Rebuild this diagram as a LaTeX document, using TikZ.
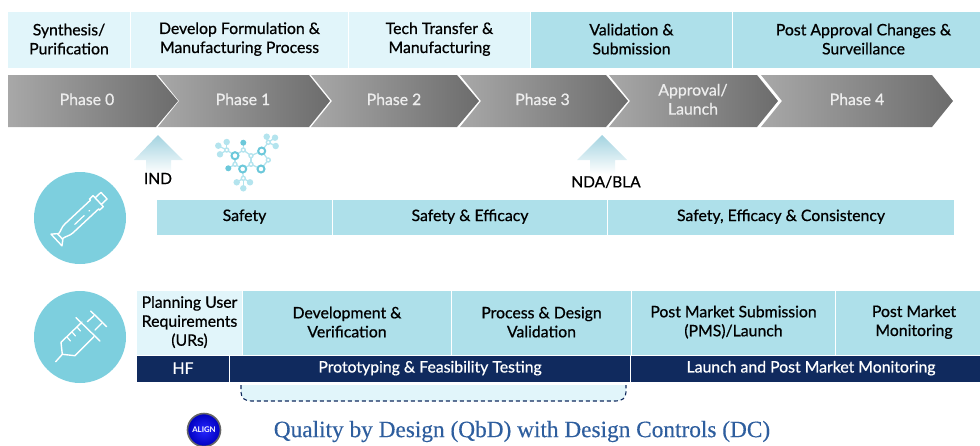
\documentclass[tikz,border=0pt]{standalone}
\usepackage{fontspec}
\setmainfont{Lato}[RawFeature={embolden=0.7}]
\newfontfamily\titlefont{Liberation Serif}[RawFeature={embolden=0.35}]
\newfontfamily\badgefont{Lato Bold}
\usetikzlibrary{shadings}
\definecolor{pale}{HTML}{E1F5FA}
\definecolor{aqua}{HTML}{AEE0EA}
\definecolor{navy}{HTML}{102A5E}
\definecolor{disc}{HTML}{7DCFDE}
\definecolor{arrowtop}{HTML}{A3D3E0}
\definecolor{greyL}{HTML}{A8A8A8}
\definecolor{greyR}{HTML}{6C6C6C}
\definecolor{titleblue}{HTML}{2E5E9E}
\definecolor{molD}{HTML}{6CC8DA}
\definecolor{molL}{HTML}{B4E4EE}
\newcommand{\cellbox}[7]{%
  \pgfmathsetmacro{\cw}{#3-#2}\pgfmathsetmacro{\ch}{#5-#4}%
  \pgfmathsetmacro{\cx}{(#3+#2)/2}\pgfmathsetmacro{\cy}{(#5+#4)/2}%
  \node[#6,minimum width=\cw pt,minimum height=\ch pt] (#1) at (\cx,\cy) {};
  \node[#6,fill=none] (#1t) at (\cx,\cy-0.9) {#7};}
\newcommand{\chev}[7]{% name, x0, notch, xr, tip, textx, text
  \path[chevshape] (#2,75) -- (#4,75) -- (#5,101) -- (#4,127) -- (#2,127) -- (#3,101) -- cycle;
  \node[chevtext] (#1) at (#6,99.3) {#7};}
\tikzset{
  cell/.style={inner sep=0pt,align=center,text=black,font=\fontsize{15.8}{19}\selectfont},
  palecell/.style={cell,fill=pale},
  aquacell/.style={cell,fill=aqua},
  navycell/.style={cell,fill=navy,text=white},
  chevshape/.style={left color=greyL,middle color=greyL!85!greyR,right color=greyR},
  chevtext/.style={inner sep=0pt,align=center,text=white!93!black,font=\fontsize{15.8}{19}\selectfont},
  uparrow/.style={top color=arrowtop,middle color=arrowtop!92!white,bottom color=white},
  tag/.style={inner sep=0pt,text=black,font=\fontsize{15.5}{17}\selectfont},
  discnode/.style={circle,fill=disc,minimum size=92pt,inner sep=0pt},
  icon/.style={draw=white,line width=1.4pt,line cap=round,line join=round},
  mollink/.style={draw=molL,line width=1.3pt},
  molring/.style={circle,draw=molL,line width=1.4pt,fill=white,minimum size=4pt,inner sep=0pt},
  molbig/.style={circle,draw=molD,line width=2pt,fill=white,minimum size=7pt,inner sep=0pt},
  moldot/.style={circle,fill=molL,minimum size=6.5pt,inner sep=0pt},
  moldark/.style={circle,fill=molD,minimum size=6pt,inner sep=0pt},
}
\begin{document}
\begin{tikzpicture}[x=1pt,y=-1pt]
\useasboundingbox (0,0) rectangle (980,445);
% top row
\cellbox{t1}{8}{130}{12}{68}{palecell}{Synthesis/\\Purification}
\cellbox{t2}{131}{348}{12}{68}{palecell}{Develop Formulation \&\\Manufacturing Process}
\cellbox{t3}{349}{530}{12}{68}{palecell}{Tech Transfer \&\\Manufacturing}
\cellbox{t4}{531}{732}{12}{68}{aquacell}{Validation \&\\Submission}
\cellbox{t5}{733}{994}{12}{68}{aquacell}{Post Approval Changes \&\\Surveillance}
% chevrons
\chev{p0}{8}{8}{156}{178}{87}{Phase 0}
\chev{p1}{158}{179}{309}{330}{243}{Phase 1}
\chev{p2}{311}{332}{457}{479}{394}{Phase 2}
\chev{p3}{460}{481}{606}{628}{542.5}{Phase 3}
\chev{p4}{609}{630}{757}{778}{693}{Approval/\\Launch}
\chev{p5}{761}{782}{932}{953}{857}{Phase 4}
% submission arrows
\path[uparrow] (158,135) -- (183,160) -- (171,160) -- (171,174) -- (146,174) -- (146,160) -- (134,160) -- cycle;
\node[tag] (ind) at (158,178.5) {IND};
\path[uparrow] (602,135) -- (627,160) -- (615,160) -- (615,174) -- (590,174) -- (590,160) -- (577,160) -- cycle;
\node[tag] (nda) at (606,182) {NDA/BLA};
% molecule
\foreach \a/\b/\c/\d in {
 226.7/150/218.3/145.7, 226.7/150/220/154.3, 226.7/150/226.7/142, 226.7/150/235/155.7,
 235/155.7/243.3/150, 243.3/150/243.3/142.7, 243.3/150/251/155.7, 251/155.7/261.7/151,
 251/155.7/251/164.3, 251/164.3/242.7/169, 251/164.3/261/169, 242.7/169/235/164.3,
 235/164.3/235/155.7, 235/164.3/228.3/168.3, 261.7/151/268.3/142.3, 268.3/142.3/266.7/136.7,
 268.3/142.3/275/137.7, 268.3/142.3/275.7/146, 261.7/151/268.3/160, 268.3/160/261/169,
 242.7/169/243.3/178.3, 243.3/178.3/236.7/182.3, 243.3/178.3/250/182.3, 243.3/178.3/243.3/188.3}
 {\draw[mollink] (\a,\b) -- (\c,\d);}
\foreach \n/\x/\y in {a/226.7/150,b/243.3/150,c/251/155.7,d/251/164.3,e/235/164.3,f/268.3/160,g/243.3/178.3,h/268.3/142.3}
 {\node[molring] (mr\n) at (\x,\y) {};}
\foreach \n/\x/\y in {a/235/155.7,b/261.7/151,c/242.7/169,d/261/169}
 {\node[molbig] (mb\n) at (\x,\y) {};}
\foreach \n/\x/\y in {a/226.7/142,b/218.3/145.7,c/220/154.3,d/266.7/136.7,e/275/137.7,f/275.7/146,g/236.7/182.3,h/250/182.3,i/243.3/188.3}
 {\node[moldot] (md\n) at (\x,\y) {};}
\node[moldark] (mka) at (243.3,142.7) {};
\node[moldark] (mkb) at (228.3,168.3) {};
% pen disc
\node[discnode] (penDisc) at (80,218) {};
\begin{scope}[shift={(56.5,240)},rotate=43]
 \draw[icon] (0,-8) -- (5,-4) -- (5,4) -- (0,8) -- cycle;
 \draw[icon] (5,-3) .. controls (10,-3.5) and (12,-6) .. (17,-6) -- (52,-6) -- (52,-7.5) -- (57,-7.5) -- (57,7.5) -- (52,7.5) -- (52,6) -- (17,6) .. controls (12,6) and (10,3.5) .. (5,3);
 \draw[icon] (57,-4.5) -- (65,-4.5) -- (65,4.5) -- (57,4.5);
 \draw[icon,line width=1.2pt] (24,1) -- (37,1);
 \fill[white] (44,1) circle (0.9);
\end{scope}
% syringe disc
\node[discnode] (synDisc) at (80,337) {};
\draw[icon] (55.7,361.7) -- (62.3,354.3) -- (75,355.7) -- (94,336.7);
\draw[icon] (62.3,354.3) -- (61,342.3) -- (82,322);
\draw[icon] (76,317.7) -- (100,341);
\draw[icon] (90.7,311) -- (106.7,326.7);
\draw[icon] (87.3,321.7) -- (94,315.7);
\draw[icon] (95,330) -- (101.7,323.3);
\draw[icon,line width=1.2pt] (67,337) -- (70.5,341) (72,332) -- (75.5,336) (77,327) -- (80.5,331);
% safety band
\cellbox{s1}{157}{332}{200}{235}{aquacell}{Safety}
\cellbox{s2}{333}{607}{200}{235}{aquacell}{Safety \& Efficacy}
\cellbox{s3}{608}{954}{200}{235}{aquacell}{Safety, Efficacy \& Consistency}
% device row
\cellbox{d1}{137}{242}{291}{355}{palecell}{Planning User\\Requirements\\(URs)}
\cellbox{d2}{243}{451}{291}{355}{aquacell}{Development \&\\Verification}
\cellbox{d3}{452}{631}{291}{355}{aquacell}{Process \& Design\\Validation}
\cellbox{d4}{632}{835}{291}{355}{aquacell}{Post Market Submission\\(PMS)/Launch}
\cellbox{d5}{836}{992}{291}{355}{aquacell}{Post Market\\Monitoring}
\cellbox{n1}{137}{229}{356}{382}{navycell}{HF}
\cellbox{n2}{230}{630}{356}{382}{navycell}{Prototyping \& Feasibility Testing}
\cellbox{n3}{631}{991}{356}{382}{navycell}{Launch and Post Market Monitoring}
% dashed tray
\path[fill=pale] (241,385) -- (241,392) .. controls (241,398) and (245,401) .. (251,401) -- (616,401) .. controls (622,401) and (626,398) .. (626,392) -- (626,385) -- cycle;
\draw[navy,line width=1.1pt,dash pattern=on 4pt off 3pt] (241,385) -- (241,392) .. controls (241,398) and (245,401) .. (251,401) -- (616,401) .. controls (622,401) and (626,398) .. (626,392) -- (626,385);
% align button
\node[circle,inner sep=0pt,minimum size=33pt,draw=black!60,line width=1.6pt,inner color=blue!85!white,outer color=blue!75!black,text=white,font=\badgefont\fontsize{7.8}{9}\selectfont] (align) at (204,430) {ALIGN};
% title
\node[inner sep=0pt,text=titleblue,font=\titlefont\fontsize{23.3}{26}\selectfont] (title) at (522,431.5) {Quality by Design (QbD) with Design Controls (DC)};
\end{tikzpicture}
\end{document}
